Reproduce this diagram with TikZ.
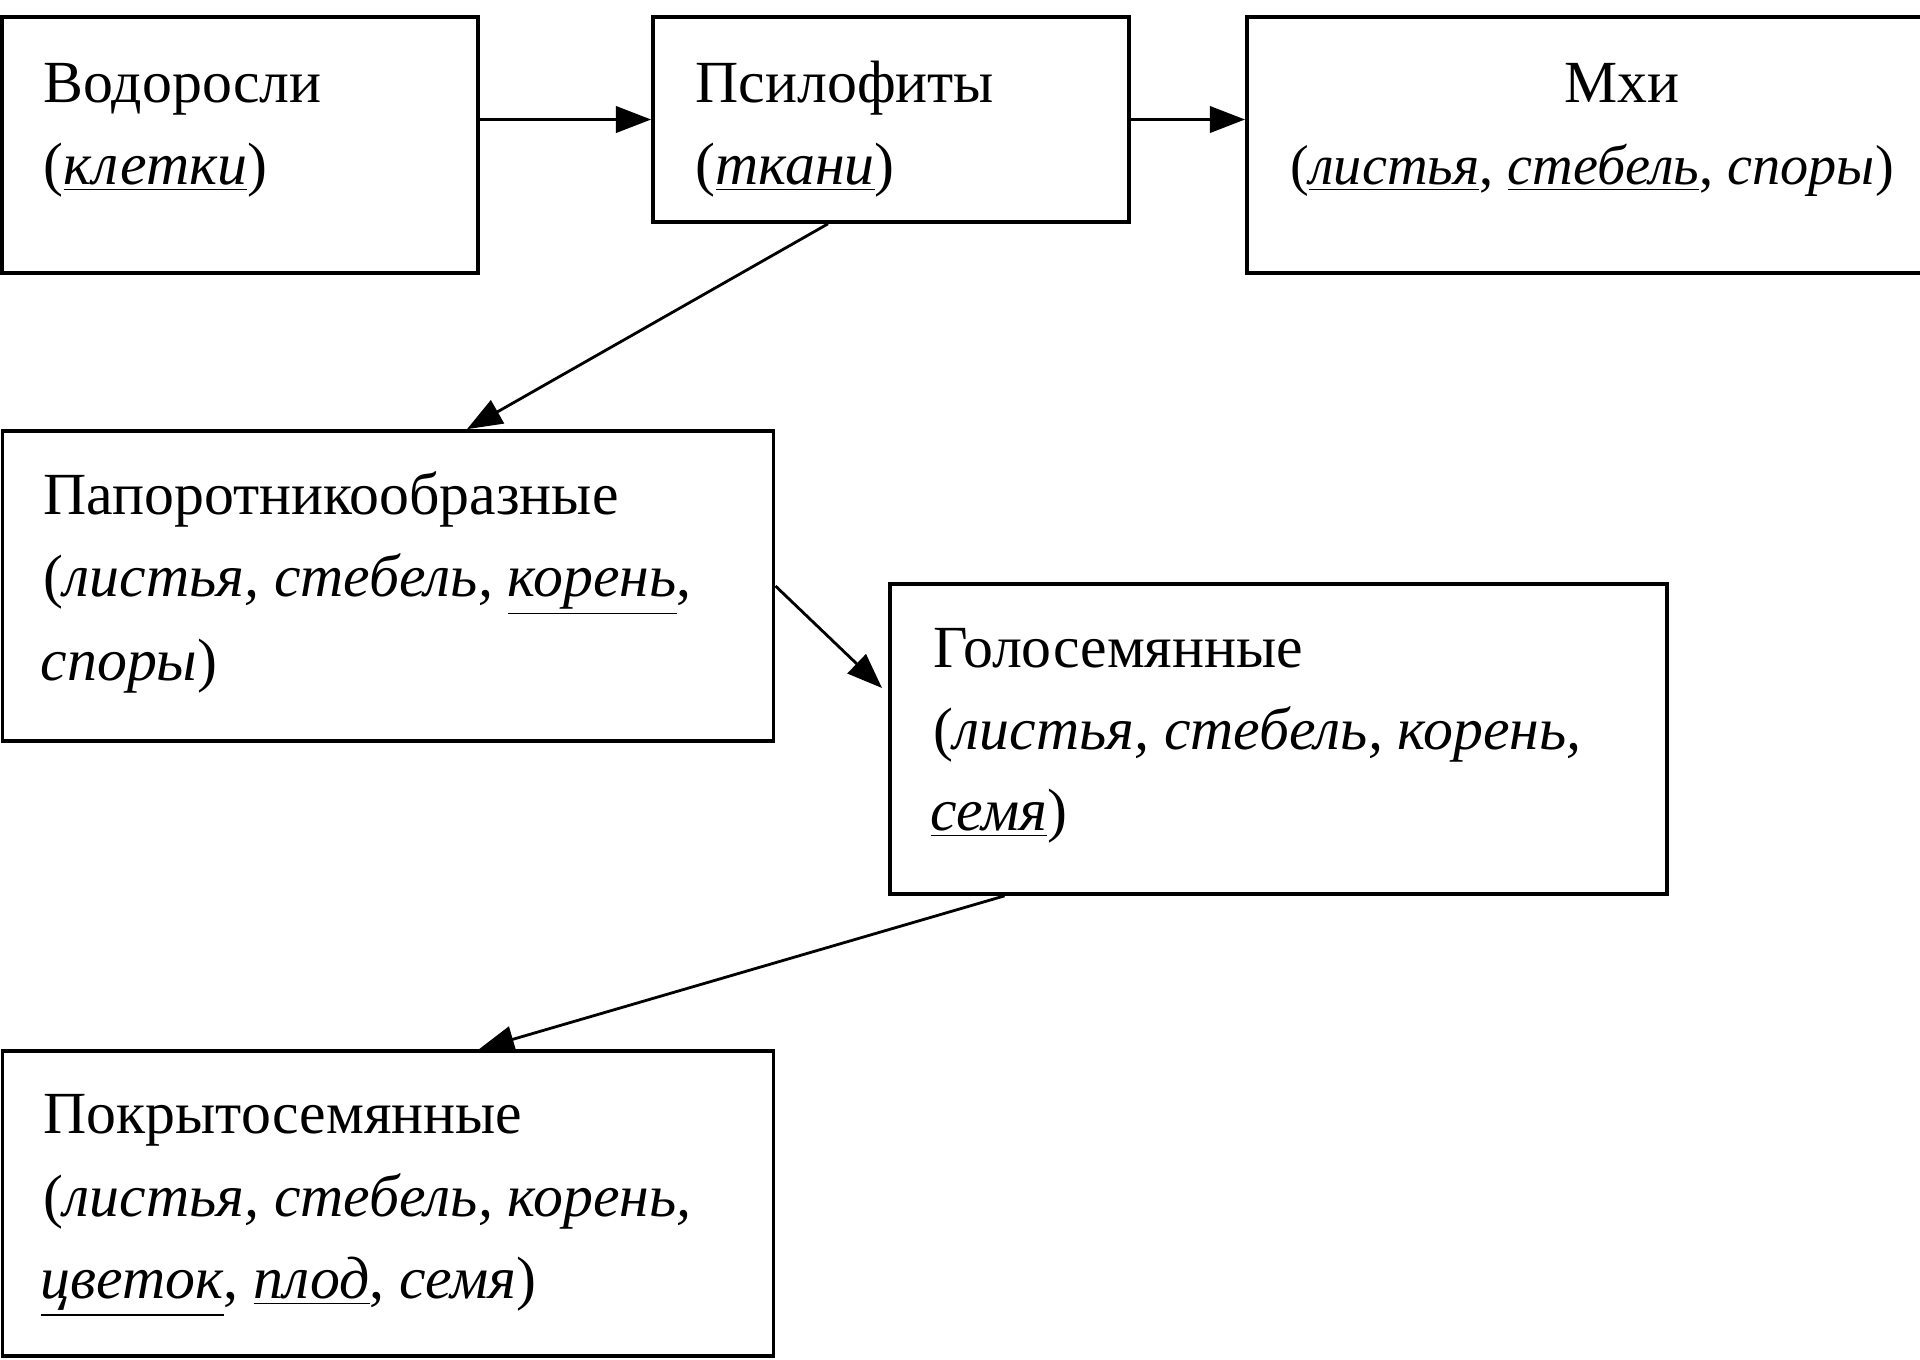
\documentclass[tikz,border=0pt]{standalone}
\usepackage{fontspec}
\setmainfont{Liberation Serif}
\usetikzlibrary{arrows.meta,calc}
\tikzset{
  box/.style={draw, line width=1pt, rectangle, inner sep=0pt},
  txt/.style={anchor=base west, inner sep=0pt, font=\fontsize{17pt}{23pt}\selectfont},
  ctxt/.style={anchor=base, inner sep=0pt, font=\fontsize{17pt}{23pt}\selectfont},
  arr/.style={line width=0.8pt, -{Triangle[length=10pt,width=7.5pt]}}
}
\newcommand{\ul}[1]{\underline{#1}}
\begin{document}
\begin{tikzpicture}[x=0.01cm,y=-0.01cm]
\path[use as bounding box, clip] (0,0) rectangle (1920,1359);
\fill[white] (0,0) rectangle (1920,1359);
% boxes
\node[box, minimum width=4.76cm, minimum height=2.56cm] (b1) at (240,145) {};
\node[box, minimum width=4.76cm, minimum height=2.05cm] (b2) at (891,119.5) {};
\node[box, minimum width=7.50cm, minimum height=2.56cm] (b3) at (1622,145) {};
\node[box, minimum width=7.71cm, minimum height=3.10cm] (b4) at (388,586) {};
\node[box, minimum width=7.77cm, minimum height=3.10cm] (b5) at (1278.5,739) {};
\node[box, minimum width=7.71cm, minimum height=3.05cm] (b6) at (388,1203.5) {};
% texts
\node[txt] (t1a) at (43,102) {Водоросли};
\node[txt] (t1b) at (43,184) {(\ul{\textit{клетки}})};
\node[txt] (t2a) at (695,102) {Псилофиты};
\node[txt] (t2b) at (695,184) {(\ul{\textit{ткани}})};
\node[ctxt] (t3a) at (1622,102) {Мхи};
\node[txt, font=\fontsize{16pt}{23pt}\selectfont] (t3b) at (1290,184) {(\ul{\textit{листья}}, \ul{\textit{стебель}}, \textit{споры})};
\node[txt] (t4a) at (43,514) {Папоротникообразные};
\node[txt] (t4b) at (43,596) {(\textit{листья, стебель,} \ul{\textit{корень}},};
\node[txt] (t4c) at (40,680) {\textit{споры})};
\node[txt] (t5a) at (933,667) {Голосемянные};
\node[txt] (t5b) at (933,749) {(\textit{листья, стебель, корень,}};
\node[txt] (t5c) at (930,830) {\ul{\textit{семя}})};
\node[txt] (t6a) at (43,1133) {Покрытосемянные};
\node[txt] (t6b) at (43,1216) {(\textit{листья, стебель, корень,}};
\node[txt] (t6c) at (40,1298) {\ul{\textit{цветок}}, \ul{\textit{плод}}, \textit{семя})};
% connectors
\draw[arr] (b2.west -| b1.east) -- (b2.west);
\draw[arr] (b2.east) -- (b2.east -| b3.west);
\draw[arr] ($(b2.south)+(-63,0)$) -- ($(b4.north)+(79,0)$);
\draw[arr] (b4.east) -- ($(b5.west)+(-6,-51)$);
\draw[arr] ($(b5.south)+(-274,0)$) -- ($(b6.north)+(91,0)$);
\end{tikzpicture}
\end{document}
